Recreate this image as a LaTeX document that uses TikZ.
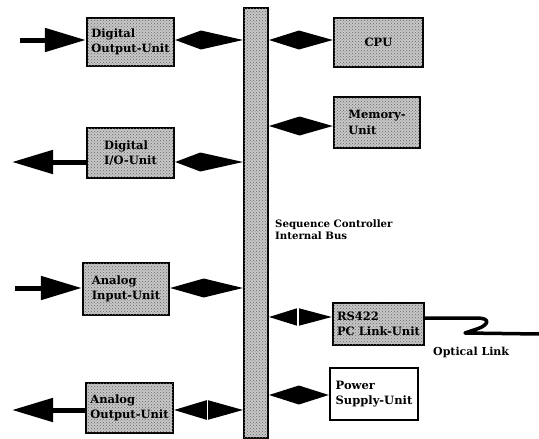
\documentclass[tikz,border=0pt]{standalone}
\usepackage{fontspec}
\setmainfont{DejaVu Serif}
\usetikzlibrary{arrows.meta,calc,patterns}
\tikzset{
  shaded/.style={fill=black!22, postaction={pattern=crosshatch dots, pattern color=black!60}},
  unit/.style={draw, line width=2.4pt, shaded, align=left, inner sep=0pt,
    font=\bfseries\fontsize{11.5}{15.5}\selectfont},
  plainunit/.style={draw, line width=2.4pt, fill=white, align=left, inner sep=0pt,
    font=\bfseries\fontsize{11.5}{15.5}\selectfont},
  busbar/.style={draw, line width=2pt, shaded, inner sep=0pt},
  ext/.style={line width=5pt, -{Triangle[length=41pt,width=23pt]}},
  kite/.style={fill=black},
  gap/.style={draw=white, line width=1.4pt},
  fiber/.style={line width=3.5pt, line join=round, line cap=round},
  lbl/.style={align=left, inner sep=0pt, font=\bfseries\fontsize{10.2}{11.5}\selectfont},
}
\newcommand{\kitelink}[4]{\fill[kite] (#1) -- ($(#1)!#3!(#2)+(0,-#4)$) -- (#2) -- ($(#1)!#3!(#2)+(0,#4)$) -- cycle;}
\begin{document}
\begin{tikzpicture}[x=1pt,y=-1pt]
\useasboundingbox (0,0) rectangle (539,439);
% bus
\node[busbar, minimum width=24pt, minimum height=430pt] (bus) at (256,223) {};
\node[lbl, anchor=north west] (buslbl) at (275,220) {Sequence Controller\\Internal Bus};
% left units
\node[unit, minimum width=87pt, minimum height=48pt] (dout) at (130.5,42) {Digital\\Output-Unit};
\node[unit, minimum width=87pt, minimum height=50pt] (dio) at (130.5,153) {Digital\\I/O-Unit};
\node[unit, minimum width=86pt, minimum height=52pt] (ain) at (126,289) {Analog\\Input-Unit};
\node[unit, minimum width=87pt, minimum height=50pt] (aout) at (129.5,408) {Analog\\Output-Unit};
% right units
\node[unit, minimum width=89pt, minimum height=49pt] (cpu) at (378.5,42.5) {CPU};
\node[unit, minimum width=86pt, minimum height=51pt] (mem) at (377,122.5) {Memory-\\Unit};
\node[unit, minimum width=91pt, minimum height=42pt] (rs) at (378.5,324) {RS422\\PC Link-Unit};
\node[plainunit, minimum width=88pt, minimum height=52pt] (pwr) at (374,394) {Power\\Supply-Unit};
% connector heights
\coordinate (y1) at (0,40);
\coordinate (y2) at (0,162);
\coordinate (y3) at (0,288);
\coordinate (y4) at (0,410);
\coordinate (y5) at (0,40);
\coordinate (y6) at (0,126);
\coordinate (y7) at (0,317);
\coordinate (y8) at (0,395);
% bus links, left
\kitelink{dout.east |- y1}{bus.west |- y1}{0.38}{9.5}
\kitelink{dio.east |- y2}{bus.west |- y2}{0.37}{9.5}
\kitelink{ain.east |- y3}{bus.west |- y3}{0.46}{9.5}
\kitelink{aout.east |- y4}{bus.west |- y4}{0.48}{10}
\draw[gap] ($(aout.east |- y4)!0.48!(bus.west |- y4)+(0,-11)$) -- ($(aout.east |- y4)!0.48!(bus.west |- y4)+(0,11)$);
% bus links, right
\kitelink{bus.east |- y5}{cpu.west |- y5}{0.47}{9.5}
\kitelink{bus.east |- y6}{mem.west |- y6}{0.48}{9.5}
\kitelink{bus.east |- y7}{rs.west |- y7}{0.46}{9}
\draw[gap] ($(bus.east |- y7)!0.46!(rs.west |- y7)+(0,-10)$) -- ($(bus.east |- y7)!0.46!(rs.west |- y7)+(0,10)$);
\kitelink{bus.east |- y8}{pwr.west |- y8}{0.5}{9.5}
% external arrows
\coordinate (in1) at (20,40);
\coordinate (out2) at (12,162);
\coordinate (in3) at (15,288);
\coordinate (out4) at (12,410);
\draw[ext] (in1) -- (dout.west |- y1);
\draw[ext] (dio.west |- y2) -- (out2);
\draw[ext] (in3) -- (ain.west |- y3);
\draw[ext] (aout.west |- y4) -- (out4);
% optical link
\coordinate (fibend) at (539,334);
\draw[fiber] (rs.east |- 0,318) -- (477,318) .. controls (491,318) and (489,325) .. (477,329) -- (465,333) -- (fibend);
\node[lbl, font=\bfseries\fontsize{11}{12}\selectfont, anchor=west] (optlbl) at (433,352) {Optical Link};
\end{tikzpicture}
\end{document}
